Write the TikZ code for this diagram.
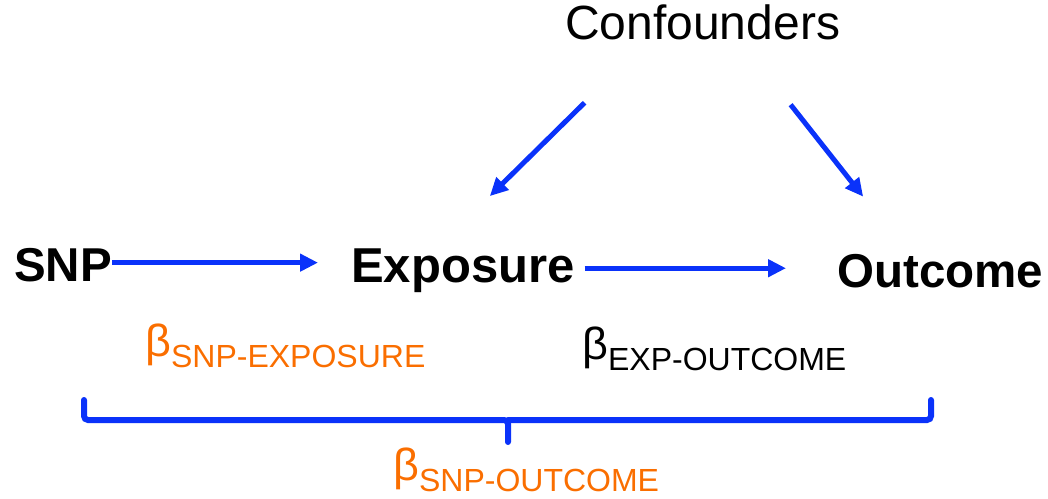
\documentclass[tikz,border=0pt]{standalone}
\usepackage{fontspec}
\setmainfont{Liberation Sans}
\usepackage{tikz}
\usetikzlibrary{arrows.meta}
\usepackage{xcolor}
\definecolor{linkblue}{RGB}{10,50,250}
\definecolor{betaorange}{RGB}{250,110,0}
\newcommand{\betalab}[1]{{\fontsize{45}{45}\selectfont β}\raisebox{-11pt}{\fontsize{32}{32}\selectfont #1}}

\begin{document}
\begin{tikzpicture}[x=1pt,y=1pt,
    var/.style={anchor=base west,inner sep=0pt,font=\fontsize{48}{48}\selectfont},
    arr/.style={draw=linkblue,line width=5pt,-{Triangle[length=18pt,width=17pt]}},
    bracelin/.style={draw=linkblue,line width=6pt,rounded corners=4pt,line cap=round}]
  \useasboundingbox (0,0) rectangle (1048,498);
  \node[var,font=\fontsize{47.5}{47.5}\selectfont\bfseries] (snp) at (14,216) {SNP};
  \node[var,font=\fontsize{49}{49}\selectfont\bfseries] (exposure) at (351,215) {Exposure};
  \node[var,font=\fontsize{47.5}{47.5}\selectfont\bfseries] (outcome) at (837,210) {Outcome};
  \node[var] (confounders) at (565,458) {Confounders};
  \node[anchor=base west,inner sep=0pt,text=betaorange] (bsnpexp) at (145,142) {\betalab{SNP-EXPOSURE}};
  \node[anchor=base west,inner sep=0pt] (bexpout) at (582,139) {\betalab{EXP-OUTCOME}};
  \node[anchor=base west,inner sep=0pt,text=betaorange] (bsnpout) at (393,18) {\betalab{SNP-OUTCOME}};
  % arrows
  \draw[arr,shorten >=33pt] ([yshift=3pt]snp.east) -- ([yshift=3pt]snp.east -| exposure.west);
  \draw[arr,shorten <=10pt,shorten >=51pt] ([yshift=3pt]exposure.east) -- ([yshift=3pt]exposure.east -| outcome.west);
  \draw[arr] ([shift={(-118,-62)}]confounders.south) -- ([shift={(27,53)}]exposure.north);
  \draw[arr] ([shift={(88,-64)}]confounders.south) -- ([shift={(-77,58)}]outcome.north);
  % brace
  \draw[bracelin] (84,98) |- (508,78) -- (508,56);
  \draw[bracelin] (508,78) -| (931,98);
\end{tikzpicture}
\end{document}
